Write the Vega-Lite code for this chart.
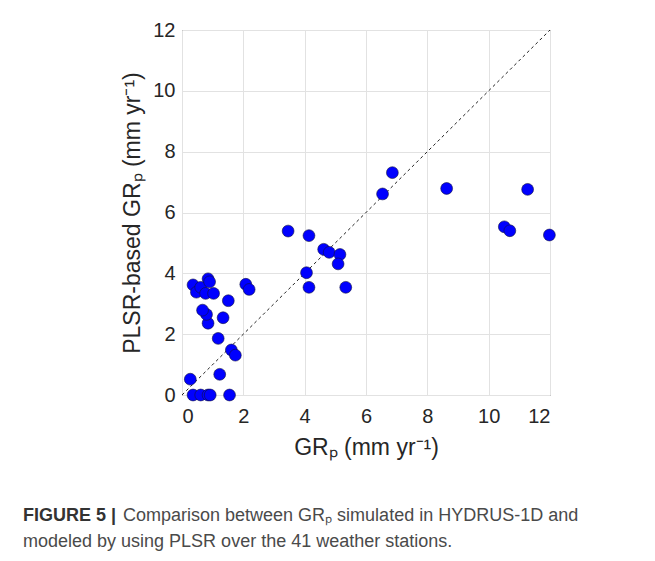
{
  "$schema": "https://vega.github.io/schema/vega-lite/v6.json",
  "width": 368,
  "height": 365,
  "autosize": {"type": "none"},
  "padding": {"left": 182, "top": 30, "right": 105, "bottom": 166},
  "background": "white",
  "config": {
    "font": "Liberation Sans",
    "view": {"stroke": "#4d4d4d", "strokeWidth": 1}
  },
  "title": {
    "text": "FIGURE 5 |",
    "subtitle": ["\u200b\u00a0\u00a0\u00a0\u00a0\u00a0\u00a0\u00a0\u00a0\u00a0\u00a0\u00a0\u00a0\u00a0\u00a0\u00a0\u00a0\u00a0\u00a0\u00a0\u00a0Comparison between GRₚ simulated in HYDRUS-1D and", "modeled by using PLSR over the 41 weather stations."],
    "orient": "bottom",
    "anchor": "start",
    "frame": "group",
    "dx": -159,
    "offset": 48,
    "font": "Liberation Sans",
    "fontSize": 18,
    "fontWeight": "bold",
    "color": "#333333",
    "subtitleFont": "Liberation Sans",
    "subtitleFontSize": 18,
    "subtitleColor": "#4a4a4a",
    "subtitleLineHeight": 26,
    "subtitlePadding": -18
  },
  "layer": [
    {
      "data": {"values": [{"GR": 0, "PLSR": 0, "GR2": 12, "PLSR2": 12}]},
      "mark": {"type": "rule", "strokeDash": [3, 3], "color": "#222222", "strokeWidth": 1},
      "encoding": {
        "x": {"field": "GR", "type": "quantitative"},
        "y": {"field": "PLSR", "type": "quantitative"},
        "x2": {"field": "GR2"},
        "y2": {"field": "PLSR2"}
      }
    },
    {
      "data": {"values": [
        {"GR": 0.27, "PLSR": 0.52},
        {"GR": 0.36, "PLSR": 0},
        {"GR": 0.61, "PLSR": 0},
        {"GR": 0.85, "PLSR": 0},
        {"GR": 0.92, "PLSR": 0},
        {"GR": 1.55, "PLSR": 0},
        {"GR": 1.23, "PLSR": 0.68},
        {"GR": 1.18, "PLSR": 1.86},
        {"GR": 1.61, "PLSR": 1.48},
        {"GR": 1.74, "PLSR": 1.31},
        {"GR": 0.85, "PLSR": 2.36},
        {"GR": 0.80, "PLSR": 2.65},
        {"GR": 0.67, "PLSR": 2.79},
        {"GR": 1.34, "PLSR": 2.54},
        {"GR": 1.51, "PLSR": 3.10},
        {"GR": 0.36, "PLSR": 3.62},
        {"GR": 0.47, "PLSR": 3.38},
        {"GR": 0.61, "PLSR": 3.54},
        {"GR": 0.77, "PLSR": 3.34},
        {"GR": 0.85, "PLSR": 3.82},
        {"GR": 0.90, "PLSR": 3.72},
        {"GR": 1.03, "PLSR": 3.34},
        {"GR": 2.08, "PLSR": 3.64},
        {"GR": 2.19, "PLSR": 3.47},
        {"GR": 3.46, "PLSR": 5.39},
        {"GR": 4.14, "PLSR": 5.24},
        {"GR": 4.06, "PLSR": 4.02},
        {"GR": 4.14, "PLSR": 3.54},
        {"GR": 4.62, "PLSR": 4.79},
        {"GR": 4.80, "PLSR": 4.69},
        {"GR": 5.15, "PLSR": 4.62},
        {"GR": 5.09, "PLSR": 4.31},
        {"GR": 5.34, "PLSR": 3.54},
        {"GR": 6.54, "PLSR": 6.61},
        {"GR": 6.86, "PLSR": 7.31},
        {"GR": 8.63, "PLSR": 6.79},
        {"GR": 11.27, "PLSR": 6.76},
        {"GR": 10.51, "PLSR": 5.53},
        {"GR": 10.69, "PLSR": 5.40},
        {"GR": 11.98, "PLSR": 5.26}
      ]},
      "mark": {"type": "circle", "size": 140, "color": "#0000ff", "opacity": 1, "stroke": "#101040", "strokeWidth": 0.6, "clip": false},
      "encoding": {
        "x": {
          "field": "GR", "type": "quantitative",
          "scale": {"domain": [0, 12], "nice": false, "zero": false},
          "axis": {
            "title": "GRₚ (mm yr⁻¹)",
            "values": [0, 2, 4, 6, 8, 10, 12],
            "grid": true, "gridColor": "#e2e2e2", "gridWidth": 1,
            "domain": false,
            "ticks": false,
            "labelFontSize": 20, "labelColor": "#262626", "labelPadding": 11,
            "titleFontSize": 23, "titleFontWeight": "normal", "titleColor": "#262626", "titlePadding": 10
          }
        },
        "y": {
          "field": "PLSR", "type": "quantitative",
          "scale": {"domain": [0, 12], "nice": false, "zero": false},
          "axis": {
            "title": "PLSR-based GRₚ (mm yr⁻¹)",
            "values": [0, 2, 4, 6, 8, 10, 12],
            "grid": true, "gridColor": "#e2e2e2", "gridWidth": 1,
            "domain": false,
            "ticks": false,
            "labelFontSize": 20, "labelColor": "#262626", "labelPadding": 7,
            "titleFontSize": 23, "titleFontWeight": "normal", "titleColor": "#262626", "titlePadding": 8
          }
        }
      }
    }
  ]
}
